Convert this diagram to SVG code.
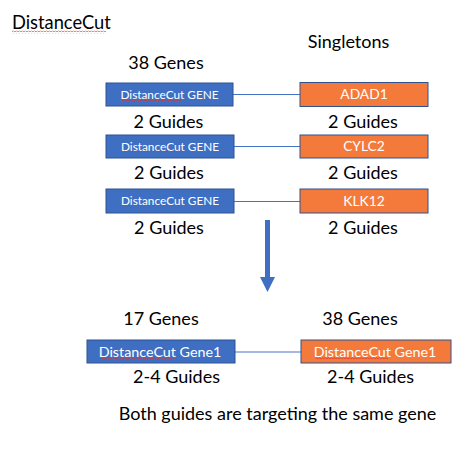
<svg xmlns="http://www.w3.org/2000/svg" width="475" height="457" viewBox="0 0 475 457">
<style>
  .lbl { font-family: Lato, "Liberation Sans", Arial, sans-serif; font-size: 18px; fill: #000; text-anchor: middle; }
  .ttl { font-family: Lato, "Liberation Sans", Arial, sans-serif; font-size: 18.3px; fill: #000; }
  .blue { fill: #3F6FC2; stroke: #2F528F; stroke-width: 1; }
  .orange { fill: #F47A3B; stroke: #2F528F; stroke-width: 1; }
  .bt { font-family: Lato, "Liberation Sans", Arial, sans-serif; fill: #fff; text-anchor: middle; }
  .conn { stroke: #4472C4; stroke-width: 1; fill: none; }
  .sq { fill: url(#wave); }
</style>
<defs>
  <pattern id="wave" patternUnits="userSpaceOnUse" width="3" height="3">
    <path d="M0,2.2 L1.5,0.6 L3,2.2" fill="none" stroke="#E0302A" stroke-width="0.7"/>
  </pattern>
</defs>
<rect width="475" height="457" fill="#fff"/>

<g id="title">
  <text class="ttl" x="12" y="29">DistanceCut</text>
  <rect class="sq" x="12" y="30.5" width="94" height="3"/>
</g>

<g id="headers">
  <text class="lbl" x="166" y="69">38 Genes</text>
  <text class="lbl" x="348.5" y="48">Singletons</text>
</g>

<g id="connectors">
  <line class="conn" x1="233" y1="94.5" x2="300" y2="94.5"/>
  <line class="conn" x1="234" y1="146.5" x2="300" y2="146.5"/>
  <line class="conn" x1="234" y1="201.5" x2="300" y2="201.5"/>
  <line class="conn" x1="235" y1="352" x2="301" y2="352"/>
  <path d="M265,220 H270 V277 H275 L267.5,292 L260,277 H265 Z" fill="#3F6FC2"/>
</g>

<g id="gene1">
  <rect class="blue" x="106" y="83" width="127" height="23"/>
  <text class="bt" x="169.5" y="98.5" font-size="11.8">DistanceCut GENE</text>
  <rect class="sq" x="122" y="98.5" width="60" height="3"/>
</g>
<g id="adad1">
  <rect class="orange" x="300" y="82.5" width="128" height="24"/>
  <text class="bt" x="364" y="99" font-size="13.8">ADAD1</text>
</g>
<g id="guides1">
  <text class="lbl" x="168.5" y="128">2 Guides</text>
  <text class="lbl" x="363" y="128">2 Guides</text>
</g>

<g id="gene2">
  <rect class="blue" x="106" y="135" width="128" height="23"/>
  <text class="bt" x="170" y="150.5" font-size="11.8">DistanceCut GENE</text>
  <rect class="sq" x="122.5" y="150.5" width="60" height="3"/>
</g>
<g id="cylc2">
  <rect class="orange" x="300" y="135" width="128" height="23"/>
  <text class="bt" x="364" y="151" font-size="13.8">CYLC2</text>
</g>
<g id="guides2">
  <text class="lbl" x="169" y="179">2 Guides</text>
  <text class="lbl" x="363" y="179">2 Guides</text>
</g>

<g id="gene3">
  <rect class="blue" x="106" y="189" width="128" height="24"/>
  <text class="bt" x="170" y="205" font-size="11.8">DistanceCut GENE</text>
  <rect class="sq" x="122.5" y="205" width="60" height="3"/>
</g>
<g id="klk12">
  <rect class="orange" x="300" y="189" width="128" height="24"/>
  <text class="bt" x="364" y="205.5" font-size="13.8">KLK12</text>
</g>
<g id="guides3">
  <text class="lbl" x="169" y="234">2 Guides</text>
  <text class="lbl" x="363" y="234">2 Guides</text>
</g>

<g id="bottom-headers">
  <text class="lbl" x="161" y="325">17 Genes</text>
  <text class="lbl" x="360" y="325">38 Genes</text>
</g>

<g id="gene1-blue">
  <rect class="blue" x="87" y="340" width="148" height="23"/>
  <text class="bt" x="160" y="356.5" font-size="14.3">DistanceCut Gene1</text>
  <rect class="sq" x="101.5" y="357" width="73" height="3"/>
</g>
<g id="gene1-orange">
  <rect class="orange" x="301" y="340" width="150" height="23"/>
  <text class="bt" x="375" y="356.5" font-size="14.3">DistanceCut Gene1</text>
  <rect class="sq" x="315.5" y="357" width="73" height="3"/>
</g>

<g id="bottom-guides">
  <text class="lbl" x="176.5" y="383">2-4 Guides</text>
  <text class="lbl" x="370.5" y="383">2-4 Guides</text>
</g>

<g id="note">
  <text class="lbl" x="277.5" y="420" font-size="18.4">Both guides are targeting the same gene</text>
</g>
</svg>
